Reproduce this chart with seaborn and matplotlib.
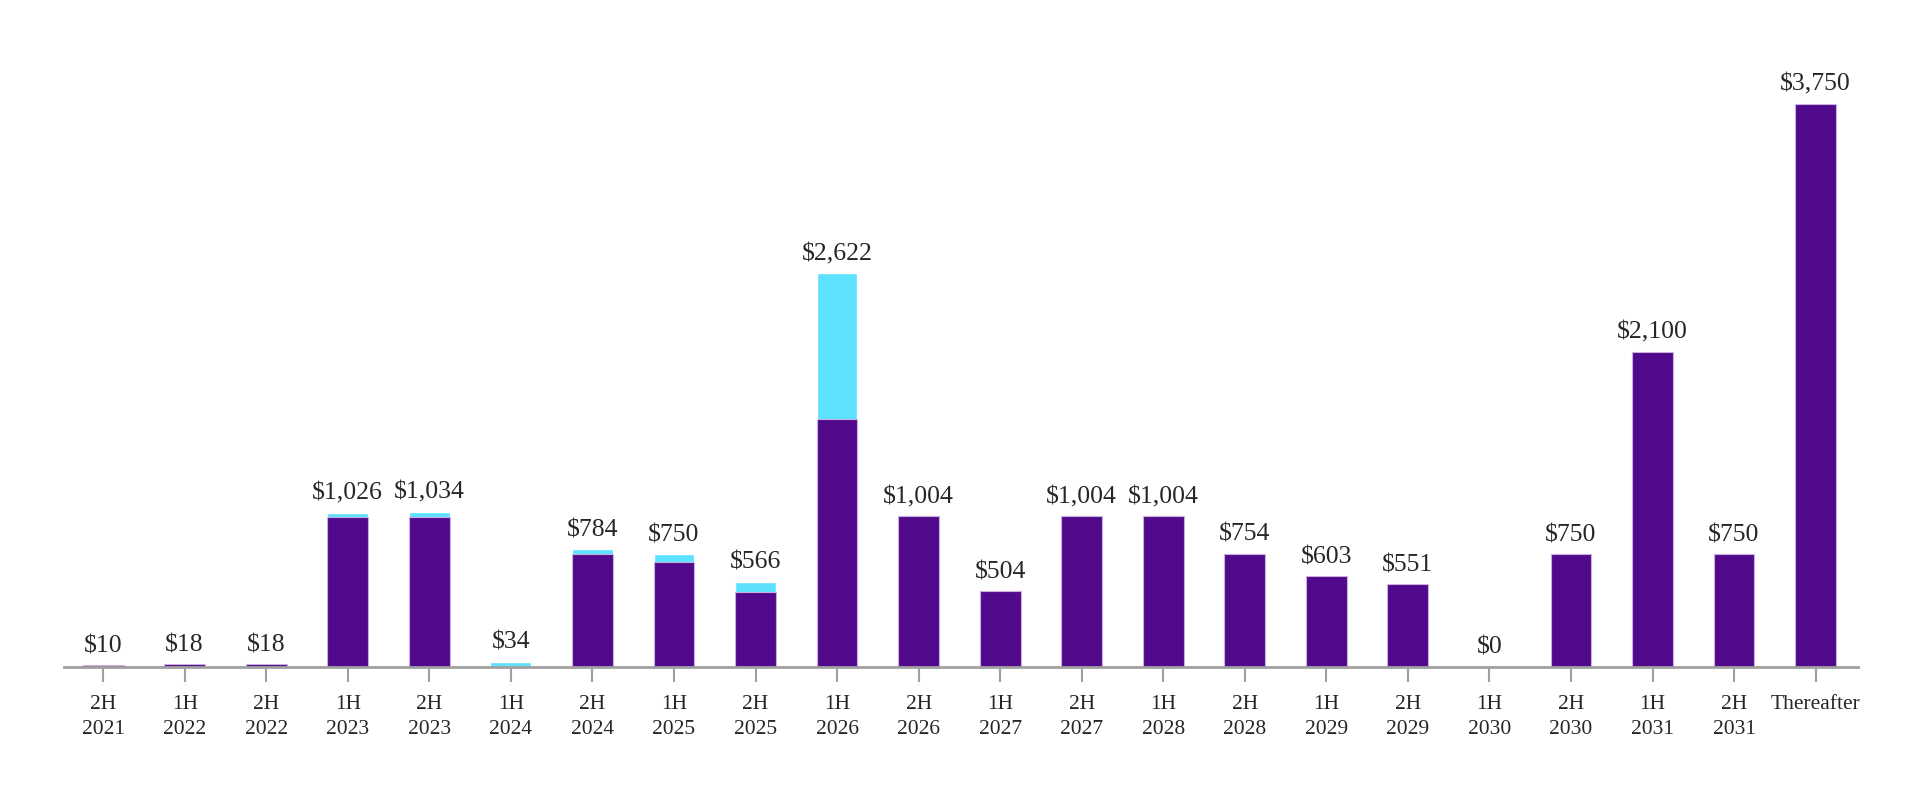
import pandas as pd
import seaborn as sns
import matplotlib.pyplot as plt

# Debt maturity profile (values in $ millions)
periods = ["2H\n2021", "1H\n2022", "2H\n2022", "1H\n2023", "2H\n2023", "1H\n2024",
           "2H\n2024", "1H\n2025", "2H\n2025", "1H\n2026", "2H\n2026", "1H\n2027",
           "2H\n2027", "1H\n2028", "2H\n2028", "1H\n2029", "2H\n2029", "1H\n2030",
           "2H\n2030", "1H\n2031", "2H\n2031", "Thereafter"]
purple_part = [10, 18, 18, 1000, 1000, 0, 750, 700, 500, 1650, 1004, 504,
               1004, 1004, 754, 603, 551, 0, 750, 2100, 750, 3750]
cyan_part = [0, 0, 0, 26, 34, 34, 34, 50, 66, 972, 0, 0,
             0, 0, 0, 0, 0, 0, 0, 0, 0, 0]
labels = ["$10", "$18", "$18", "$1,026", "$1,034", "$34", "$784", "$750", "$566",
          "$2,622", "$1,004", "$504", "$1,004", "$1,004", "$754", "$603", "$551",
          "$0", "$750", "$2,100", "$750", "$3,750"]

df = pd.DataFrame({"period": periods, "purple": purple_part, "cyan": cyan_part})
df["total"] = df["purple"] + df["cyan"]

sns.set_style("white")
plt.rcParams["font.family"] = ["Liberation Serif", "DejaVu Serif"]

fig = plt.figure(figsize=(19.2, 8), dpi=100)
ax = fig.add_axes([64 / 1920, 133 / 800, (1858 - 64) / 1920, 607 / 800])

# cyan drawn as full total, purple on top covers the lower part
sns.barplot(data=df, x="period", y="total", color="#5CE1FF", width=0.5,
            saturation=1, ax=ax)
sns.barplot(data=df, x="period", y="purple", color="#520A8C", width=0.5,
            saturation=1, edgecolor="#C9B0DE", linewidth=0.8, ax=ax)

for i, (tot, lab) in enumerate(zip(df["total"], labels)):
    ax.text(i, tot + 55, lab, ha="center", va="bottom", fontsize=18.5)

ax.set_xlim(-0.48, len(periods) - 0.48)
ax.set_ylim(0, 4043)
ax.set_xlabel("")
ax.set_ylabel("")
ax.set_yticks([])
for side in ["top", "right", "left"]:
    ax.spines[side].set_visible(False)
ax.spines["bottom"].set_color("#A0A0A0")
ax.spines["bottom"].set_linewidth(2)
ax.tick_params(axis="x", bottom=True, length=11, width=1.5, color="#A0A0A0",
               labelsize=15.5, pad=9)
for t in ax.get_xticklabels():
    t.set_linespacing(1.45)

fig.savefig("out.png", dpi=100)
